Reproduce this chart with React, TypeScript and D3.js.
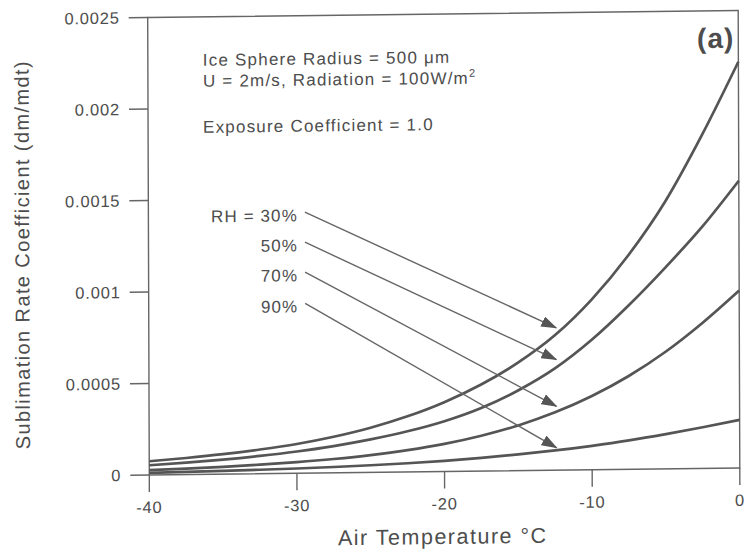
import React from "react";
import * as d3 from "d3";

// Air temperature (°C) at which each curve is sampled
const temperatures = [
  -40, -37.5, -35, -32.5, -30, -27.5, -25, -22.5, -20, -17.5, -15, -12.5, -10, -7.5, -5, -2.5, 0,
];

// Sublimation rate coefficient (dm/mdt) for each relative humidity
const rh30 = [
  0.000075, 0.0000905, 0.000109, 0.000132, 0.00016, 0.000197, 0.000244, 0.000304, 0.000379,
  0.000473, 0.00059, 0.000737, 0.00093, 0.00117, 0.00146, 0.00182, 0.00222,
];
const rh50 = [
  0.000053, 0.0000648, 0.0000793, 0.0000972, 0.000119, 0.000146, 0.00018, 0.000222, 0.000275,
  0.000345, 0.000438, 0.000556, 0.00071, 0.000895, 0.0011, 0.00132, 0.00157,
];
const rh70 = [
  0.000027, 0.0000328, 0.00004, 0.0000492, 0.0000607, 0.0000755, 0.0000944, 0.000119, 0.000151,
  0.000193, 0.000247, 0.000316, 0.000403, 0.00051, 0.00064, 0.000795, 0.00097,
];
const rh90 = [
  0.000012, 0.0000145, 0.0000176, 0.0000214, 0.000026, 0.0000317, 0.0000388, 0.0000476, 0.0000585,
  0.000072, 0.0000884, 0.000108, 0.000131, 0.000158, 0.00019, 0.000225, 0.000263,
];
const seriesValues = [rh30, rh50, rh70, rh90];

// Callout labels and their arrows (data coordinates)
const rhLabels = ["RH = 30%", "50%", "70%", "90%"];
const arrowStartT = -29.4;
const arrowEndT = -12.4;
const arrowStartValues = [0.001426, 0.001262, 0.001098, 0.000928];
const arrowEndValues = [0.000778, 0.000604, 0.000349, 0.000122];

// Axes
const xTicks = [-40, -30, -20, -10, 0];
const xTickLabels = ["-40", "-30", "-20", "-10", "0"];
const yTicks = [0, 0.0005, 0.001, 0.0015, 0.002, 0.0025];
const yTickLabels = ["0", "0.0005", "0.001", "0.0015", "0.002", "0.0025"];

const xTitle = "Air Temperature °C";
const yTitle = "Sublimation Rate Coefficient (dm/mdt)";
const panelTag = "(a)";

const FONT = "'Liberation Sans', Arial, Helvetica, sans-serif";
const INK = "#555";
const TEXT = "#4d4d4d";

export default function App() {
  const W = 748;
  const H = 553;
  const x = d3.scaleLinear().domain([-40, 0]).range([148.5, 739]);
  const y = d3.scaleLinear().domain([0, 0.0025]).range([471.5, 14]);
  const [x0, x1] = x.range();
  const [yb, yt] = y.range();

  const line = d3
    .line<[number, number]>()
    .x((d) => x(d[0]))
    .y((d) => y(d[1]))
    .curve(d3.curveMonotoneX);

  const tickLen = 19;
  // slight skew of the whole figure, as on the printed page
  const cx = 444;
  const cy = 245;
  const a = 0.0035;
  const b = -0.0118;
  const transform = `matrix(1, ${b}, ${a}, 1, ${-a * cy}, ${-b * cx})`;

  return (
    <svg
      width={W}
      height={H}
      viewBox={`0 0 ${W} ${H}`}
      style={{ position: "absolute", left: 0, top: 0, display: "block", background: "#fff" }}
    >
      <defs>
        <marker
          id="head"
          markerUnits="userSpaceOnUse"
          markerWidth={16}
          markerHeight={11}
          refX={15}
          refY={5.5}
          orient="auto"
        >
          <path d="M0,0 L16,5.5 L0,11 Z" fill={INK} />
        </marker>
      </defs>
      <rect x={0} y={0} width={W} height={H} fill="#fff" />
      <g transform={transform} fontFamily={FONT}>
        {/* frame */}
        <path
          d={`M${x0},${yb} L${x0},${yt} L${x1},${yt} L${x1},${yb} Z`}
          fill="none"
          stroke="#666"
          strokeWidth={1.4}
        />
        {/* y axis ticks */}
        {yTicks.map((t, i) => (
          <g key={`y${i}`}>
            <line x1={x0 - tickLen} x2={x0} y1={y(t)} y2={y(t)} stroke="#666" strokeWidth={1.4} />
            <text
              x={x0 - tickLen - 9}
              y={y(t)}
              dy="0.36em"
              textAnchor="end"
              fontSize={16.5}
              letterSpacing={0.8}
              fill={TEXT}
            >
              {yTickLabels[i]}
            </text>
          </g>
        ))}
        {/* x axis ticks */}
        {xTicks.map((t, i) => (
          <g key={`x${i}`}>
            <line x1={x(t)} x2={x(t)} y1={yb} y2={yb + 17} stroke="#666" strokeWidth={1.4} />
            <text
              x={x(t)}
              y={yb + 38}
              textAnchor="middle"
              fontSize={16.5}
              letterSpacing={0.8}
              fill={TEXT}
            >
              {xTickLabels[i]}
            </text>
          </g>
        ))}
        {/* axis titles */}
        <text
          x={(x0 + x1) / 2 - 2}
          y={H - 9}
          textAnchor="middle"
          fontSize={21.5}
          letterSpacing={1.5}
          fill={TEXT}
        >
          {xTitle}
        </text>
        <text
          transform={`translate(22, ${(yb + yt) / 2 + 7}) rotate(-90)`}
          textAnchor="middle"
          dy="0.36em"
          fontSize={20}
          letterSpacing={1.4}
          fill={TEXT}
        >
          {yTitle}
        </text>

        {/* curves */}
        {seriesValues.map((vals, i) => (
          <path
            key={`s${i}`}
            d={line(temperatures.map((t, j) => [t, vals[j]]) as [number, number][]) || ""}
            fill="none"
            stroke={INK}
            strokeWidth={2.7}
          />
        ))}

        {/* callout arrows */}
        {arrowStartValues.map((v, i) => (
          <line
            key={`a${i}`}
            x1={x(arrowStartT)}
            y1={y(v)}
            x2={x(arrowEndT)}
            y2={y(arrowEndValues[i])}
            stroke="#666"
            strokeWidth={1.4}
            markerEnd="url(#head)"
          />
        ))}
        {rhLabels.map((lab, i) => (
          <text
            key={`l${i}`}
            x={x(arrowStartT) - 7}
            y={y(arrowStartValues[i])}
            dy="0.53em"
            textAnchor="end"
            fontSize={17}
            letterSpacing={1.1}
            fill={TEXT}
          >
            {lab}
          </text>
        ))}

        {/* run conditions */}
        <text x={x0 + 55} y={yt + 49} fontSize={17} letterSpacing={1.2} fill={TEXT}>
          Ice Sphere Radius = 500 μm
        </text>
        <text x={x0 + 55} y={yt + 70} fontSize={17} letterSpacing={1.2} fill={TEXT}>
          U = 2m/s, Radiation = 100W/m
          <tspan dy={-7} fontSize={11}>
            2
          </tspan>
        </text>
        <text x={x0 + 55} y={yt + 116} fontSize={17} letterSpacing={1.2} fill={TEXT}>
          Exposure Coefficient = 1.0
        </text>
        <text
          x={x1 - 4}
          y={yt + 37}
          textAnchor="end"
          fontSize={28}
          fontWeight="bold"
          letterSpacing={1}
          fill={TEXT}
        >
          {panelTag}
        </text>
      </g>
    </svg>
  );
}
